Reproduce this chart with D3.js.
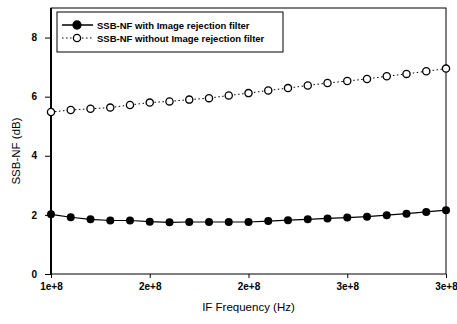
<!DOCTYPE html>
<html>
<head>
  <meta charset="utf-8">
  <script src="https://d3js.org/d3.v7.min.js"></script>
  <style>
    body { margin: 0; background: #fff; font-family: Arial, 'Liberation Sans', sans-serif; }
    .tick line { stroke: #000; }
    .domain { stroke: none; }
  </style>
</head>
<body>
<svg id="chart" width="457" height="324"></svg>
<script>
  // frequency points, 100 MHz .. 300 MHz in 10 MHz steps
  var freq = [1.0e8, 1.1e8, 1.2e8, 1.3e8, 1.4e8, 1.5e8, 1.6e8, 1.7e8, 1.8e8, 1.9e8,
              2.0e8, 2.1e8, 2.2e8, 2.3e8, 2.4e8, 2.5e8, 2.6e8, 2.7e8, 2.8e8, 2.9e8, 3.0e8];
  var nfWithFilter = [2.02, 1.92, 1.85, 1.81, 1.81, 1.77, 1.75, 1.76, 1.76, 1.76,
                      1.76, 1.79, 1.82, 1.85, 1.88, 1.91, 1.94, 1.99, 2.04, 2.10, 2.16];
  var nfWithoutFilter = [5.48, 5.55, 5.59, 5.63, 5.72, 5.80, 5.84, 5.90, 5.95, 6.04,
                         6.12, 6.21, 6.29, 6.38, 6.46, 6.53, 6.60, 6.69, 6.77, 6.86, 6.95];
  var xTicks = [1e8, 1.5e8, 2e8, 2.5e8, 3e8];
  var xTickLabels = ["1e+8", "2e+8", "2e+8", "3e+8", "3e+8"];
  var yTicks = [0, 2, 4, 6, 8];
  var seriesNames = ["SSB-NF with Image rejection filter", "SSB-NF without Image rejection filter"];

  var margin = {left: 51, right: 11, top: 8, bottom: 50},
      width = 457 - margin.left - margin.right,
      height = 324 - margin.top - margin.bottom;

  var svg = d3.select("#chart");
  var g = svg.append("g").attr("transform", "translate(" + margin.left + "," + margin.top + ")");

  var x = d3.scaleLinear().domain([1e8, 3e8]).range([0, width]);
  var y = d3.scaleLinear().domain([0, 9]).range([height, 0]);

  // frame
  g.append("rect")
    .attr("width", width).attr("height", height)
    .attr("fill", "none").attr("stroke", "#000").attr("stroke-width", 1);
  g.append("line")
    .attr("x1", 0).attr("x2", 0).attr("y1", 0).attr("y2", height)
    .attr("stroke", "#000").attr("stroke-width", 2);

  var xAxis = g.append("g")
    .attr("transform", "translate(0," + height + ")")
    .call(d3.axisBottom(x).tickValues(xTicks).tickSize(4).tickPadding(5)
      .tickFormat(function (d, i) { return xTickLabels[i]; }));
  xAxis.selectAll("text").attr("font-size", "10px").attr("font-weight", "bold")
    .attr("font-family", "Arial, 'Liberation Sans', sans-serif").attr("fill", "#000");

  var yAxis = g.append("g")
    .call(d3.axisLeft(y).tickValues(yTicks).tickSize(6).tickPadding(8));
  yAxis.selectAll("text").attr("font-size", "10px").attr("font-weight", "bold")
    .attr("font-family", "Arial, 'Liberation Sans', sans-serif").attr("fill", "#000");

  // axis titles
  svg.append("text")
    .attr("x", margin.left + width / 2).attr("y", 311)
    .attr("text-anchor", "middle").attr("font-size", "11.5px")
    .text("IF Frequency (Hz)");
  svg.append("text")
    .attr("transform", "translate(20," + (margin.top + height / 2 + 10) + ") rotate(-90)")
    .attr("text-anchor", "middle").attr("font-size", "11.5px")
    .text("SSB-NF (dB)");

  var line = d3.line()
    .x(function (d, i) { return x(freq[i]); })
    .y(function (d) { return y(d); });

  // series without filter (dotted, open markers)
  g.append("path").datum(nfWithoutFilter)
    .attr("d", line).attr("fill", "none").attr("stroke", "#000")
    .attr("stroke-width", 1).attr("stroke-dasharray", "1.5,2.5");
  g.selectAll(".open").data(nfWithoutFilter).enter().append("circle")
    .attr("cx", function (d, i) { return x(freq[i]); })
    .attr("cy", function (d) { return y(d); })
    .attr("r", 3.6).attr("fill", "#fff").attr("stroke", "#000").attr("stroke-width", 1.3);

  // series with filter (solid, filled markers)
  g.append("path").datum(nfWithFilter)
    .attr("d", line).attr("fill", "none").attr("stroke", "#000").attr("stroke-width", 1.2);
  g.selectAll(".filled").data(nfWithFilter).enter().append("circle")
    .attr("cx", function (d, i) { return x(freq[i]); })
    .attr("cy", function (d) { return y(d); })
    .attr("r", 4).attr("fill", "#000");

  // legend
  var leg = svg.append("g").attr("transform", "translate(57,12)");
  leg.append("rect").attr("width", 226).attr("height", 40)
    .attr("fill", "#fff").attr("stroke", "#000").attr("stroke-width", 1);
  seriesNames.forEach(function (name, i) {
    var ly = 13 + i * 13;
    var row = leg.append("g");
    row.append("line").attr("x1", 5).attr("x2", 36).attr("y1", ly).attr("y2", ly)
      .attr("stroke", "#000").attr("stroke-width", i === 0 ? 1.5 : 1)
      .attr("stroke-dasharray", i === 0 ? null : "1.5,2.5");
    row.append("circle").attr("cx", 20).attr("cy", ly).attr("r", i === 0 ? 4 : 3.6)
      .attr("fill", i === 0 ? "#000" : "#fff").attr("stroke", "#000").attr("stroke-width", 1.3);
    row.append("text").attr("x", 40).attr("y", ly + 3.5)
      .attr("font-size", "9.5px").attr("font-weight", "bold")
      .text(name);
  });
</script>
</body>
</html>
